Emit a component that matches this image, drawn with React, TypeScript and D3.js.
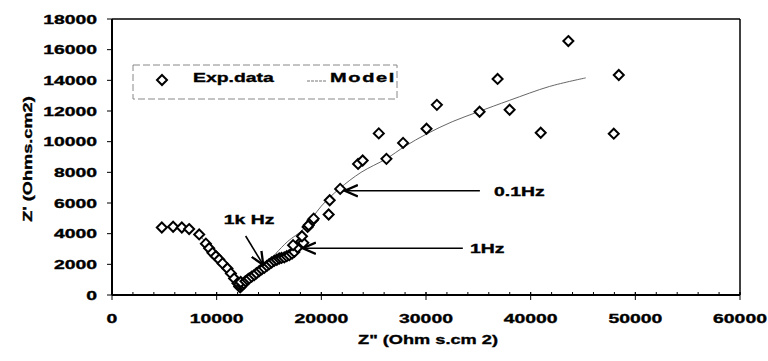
import React from 'react';
import * as d3 from 'd3';

// Exp. data: [Z'' , Z'] in Ohms.cm2
const expData: [number, number][] = [
  [4760, 4400], [5840, 4450], [6670, 4400], [7370, 4300], [8330, 3950],
  [8970, 3350], [9280, 3050], [9600, 2750], [9920, 2530], [10240, 2320],
  [10560, 2060], [11030, 1730], [11360, 1410], [11670, 1080], [11990, 760],
  [12150, 560], [12250, 500], [12350, 600], [12150, 700], [12450, 650],
  [12600, 750], [12300, 850], [12750, 900], [12950, 1000], [13110, 1080],
  [13350, 1200], [13590, 1300], [13800, 1420], [14070, 1560], [14300, 1680],
  [14550, 1770], [14800, 1900], [15020, 2010], [15250, 2120], [15500, 2230],
  [15750, 2300], [15980, 2380], [16200, 2420], [16460, 2450], [16700, 2530],
  [16940, 2600], [17200, 2700], [17420, 2810], [17730, 3100], [17300, 3250],
  [18050, 3460], [18280, 3400], [18150, 3830], [18690, 4440], [18790, 4550],
  [19170, 4870], [19270, 4980], [20700, 5250], [20800, 6180], [21800, 6920],
  [23510, 8550], [23950, 8770], [25490, 10540], [26220, 8880], [27810, 9920],
  [30050, 10840], [31040, 12400], [35120, 11950], [36840, 14090], [37990, 12080],
  [40960, 10580], [43600, 16560], [47940, 10520], [48420, 14350],
];

// Model curve
const modelData: [number, number][] = [
  [8300, 3900], [9400, 3150], [10500, 2150], [11300, 1300], [12000, 700],
  [12400, 560], [13000, 900], [14000, 1550], [15000, 2200], [15660, 2710],
  [16800, 3500], [18300, 4300], [20000, 5800], [21720, 6930], [23800, 8000],
  [26190, 8880], [28000, 9700], [30050, 10500], [32500, 11300], [35000, 11950],
  [38000, 12700], [41800, 13600], [45260, 14160],
];

const xTicks = [0, 10000, 20000, 30000, 40000, 50000, 60000];
const yTicks = [0, 2000, 4000, 6000, 8000, 10000, 12000, 14000, 16000, 18000];
const xMinorTicks = d3.range(0, 60001, 2000);

// frequency annotations: label, arrow start, arrow end, label anchor
const annLabels = ['1k Hz', '0.1Hz', '1Hz'];
const annFrom: [number, number][] = [[12770, 3850], [35150, 6800], [33520, 3050]];
const annTo: [number, number][] = [[14450, 1960], [22250, 6800], [18240, 3050]];
const annText: [number, number][] = [[13100, 4950], [36500, 6780], [34200, 3050]];

const legendLabels = ['Exp.data', 'Model'];
const xTitle = 'Z" (Ohm s.cm 2)';
const yTitle = "Z' (Ohms.cm2)";

const W = 768;
const H = 361;
const SX = 1.55;
const font = '"Liberation Sans", Arial, sans-serif';

const x = d3.scaleLinear().domain([0, 60000]).range([112, 740]);
const y = d3.scaleLinear().domain([0, 18000]).range([295, 19]);

const diamond = (cx: number, cy: number, r = 5) =>
  `M${cx},${cy - r}L${cx + r},${cy}L${cx},${cy + r}L${cx - r},${cy}Z`;

const Txt: React.FC<{ x: number; y: number; anchor?: string; size?: number; sx?: number; children: React.ReactNode }> = ({
  x: tx, y: ty, anchor = 'start', size = 12.5, sx = SX, children,
}) => (
  <text
    transform={`translate(${tx},${ty}) scale(${sx},1)`}
    textAnchor={anchor}
    fontFamily={font}
    fontWeight="bold"
    fontSize={size}
    fill="#000"
    stroke="#000"
    strokeWidth={0.35}
  >
    {children}
  </text>
);

export default function App() {
  const line = d3
    .line<[number, number]>()
    .x(d => x(d[0]))
    .y(d => y(d[1]))
    .curve(d3.curveCatmullRom.alpha(0.5));

  return (
    <svg width={W} height={H} style={{ position: 'absolute', left: 0, top: 0, background: '#fff' }}>
      <defs>
        <marker id="arr" viewBox="0 0 10 10" refX="9" refY="5" markerWidth="9" markerHeight="9" orient="auto">
          <path d="M0,1L9,5L0,9" fill="none" stroke="#000" strokeWidth="1.6" />
        </marker>
      </defs>
      <rect width={W} height={H} fill="#fff" />

      {/* frame */}
      <line x1={x(0)} x2={x(60000)} y1={y(18000)} y2={y(18000)} stroke="#000" strokeWidth={1.5} />
      <line x1={x(60000)} x2={x(60000)} y1={y(18000)} y2={y(0)} stroke="#000" strokeWidth={1.5} />

      {/* model */}
      <path d={line(modelData) || ''} fill="none" stroke="#555" strokeWidth={0.9} />

      {/* data */}
      {expData.map((d, i) => (
        <path key={i} d={diamond(x(d[0]), y(d[1]))} fill="#fff" stroke="#000" strokeWidth={2} />
      ))}

      {/* axes */}
      <line x1={x(0)} x2={x(60000)} y1={y(0)} y2={y(0)} stroke="#000" strokeWidth={2} />
      <line x1={x(0)} x2={x(0)} y1={y(0)} y2={y(18000)} stroke="#000" strokeWidth={2} />
      {xMinorTicks.map(t => (
        <line key={'m' + t} x1={x(t)} x2={x(t)} y1={y(0)} y2={y(0) - 3} stroke="#000" strokeWidth={1} />
      ))}
      {xTicks.map(t => (
        <g key={'x' + t}>
          <line x1={x(t)} x2={x(t)} y1={y(0) - 3} y2={y(0) + 5} stroke="#000" strokeWidth={1} />
          <Txt x={x(t)} y={323} anchor="middle">{t}</Txt>
        </g>
      ))}
      {yTicks.map(t => (
        <g key={'y' + t}>
          <line x1={x(0) - 5} x2={x(0)} y1={y(t)} y2={y(t)} stroke="#000" strokeWidth={1} />
          <Txt x={97} y={y(t) + 4.5} anchor="end">{t}</Txt>
        </g>
      ))}

      {/* axis titles */}
      <Txt x={428} y={344} anchor="middle" size={13} sx={1.4}>{xTitle}</Txt>
      <g transform={`translate(32,159) rotate(-90)`}>
        <Txt x={0} y={0} anchor="middle" size={13} sx={1.4}>{yTitle}</Txt>
      </g>

      {/* legend */}
      <rect x={133} y={65} width={264} height={34} fill="none" stroke="#888" strokeWidth={1} strokeDasharray="7,3" />
      <path d={diamond(162, 80)} fill="#fff" stroke="#000" strokeWidth={2} />
      <Txt x={193} y={82}>{legendLabels[0]}</Txt>
      <line x1={307} x2={326} y1={81} y2={81} stroke="#777" strokeWidth={1} strokeDasharray="3,1" />
      <Txt x={330} y={82} sx={1.6}>{legendLabels[1].split('').join('\u200A')}</Txt>

      {/* annotations */}
      {annLabels.map((lab, i) => (
        <g key={lab}>
          <line
            x1={x(annFrom[i][0])} y1={y(annFrom[i][1])}
            x2={x(annTo[i][0])} y2={y(annTo[i][1])}
            stroke="#000" strokeWidth={1.6} markerEnd="url(#arr)"
          />
          <Txt x={x(annText[i][0])} y={y(annText[i][1]) + 4.5} anchor={i === 0 ? 'middle' : 'start'}>{lab}</Txt>
        </g>
      ))}
    </svg>
  );
}
